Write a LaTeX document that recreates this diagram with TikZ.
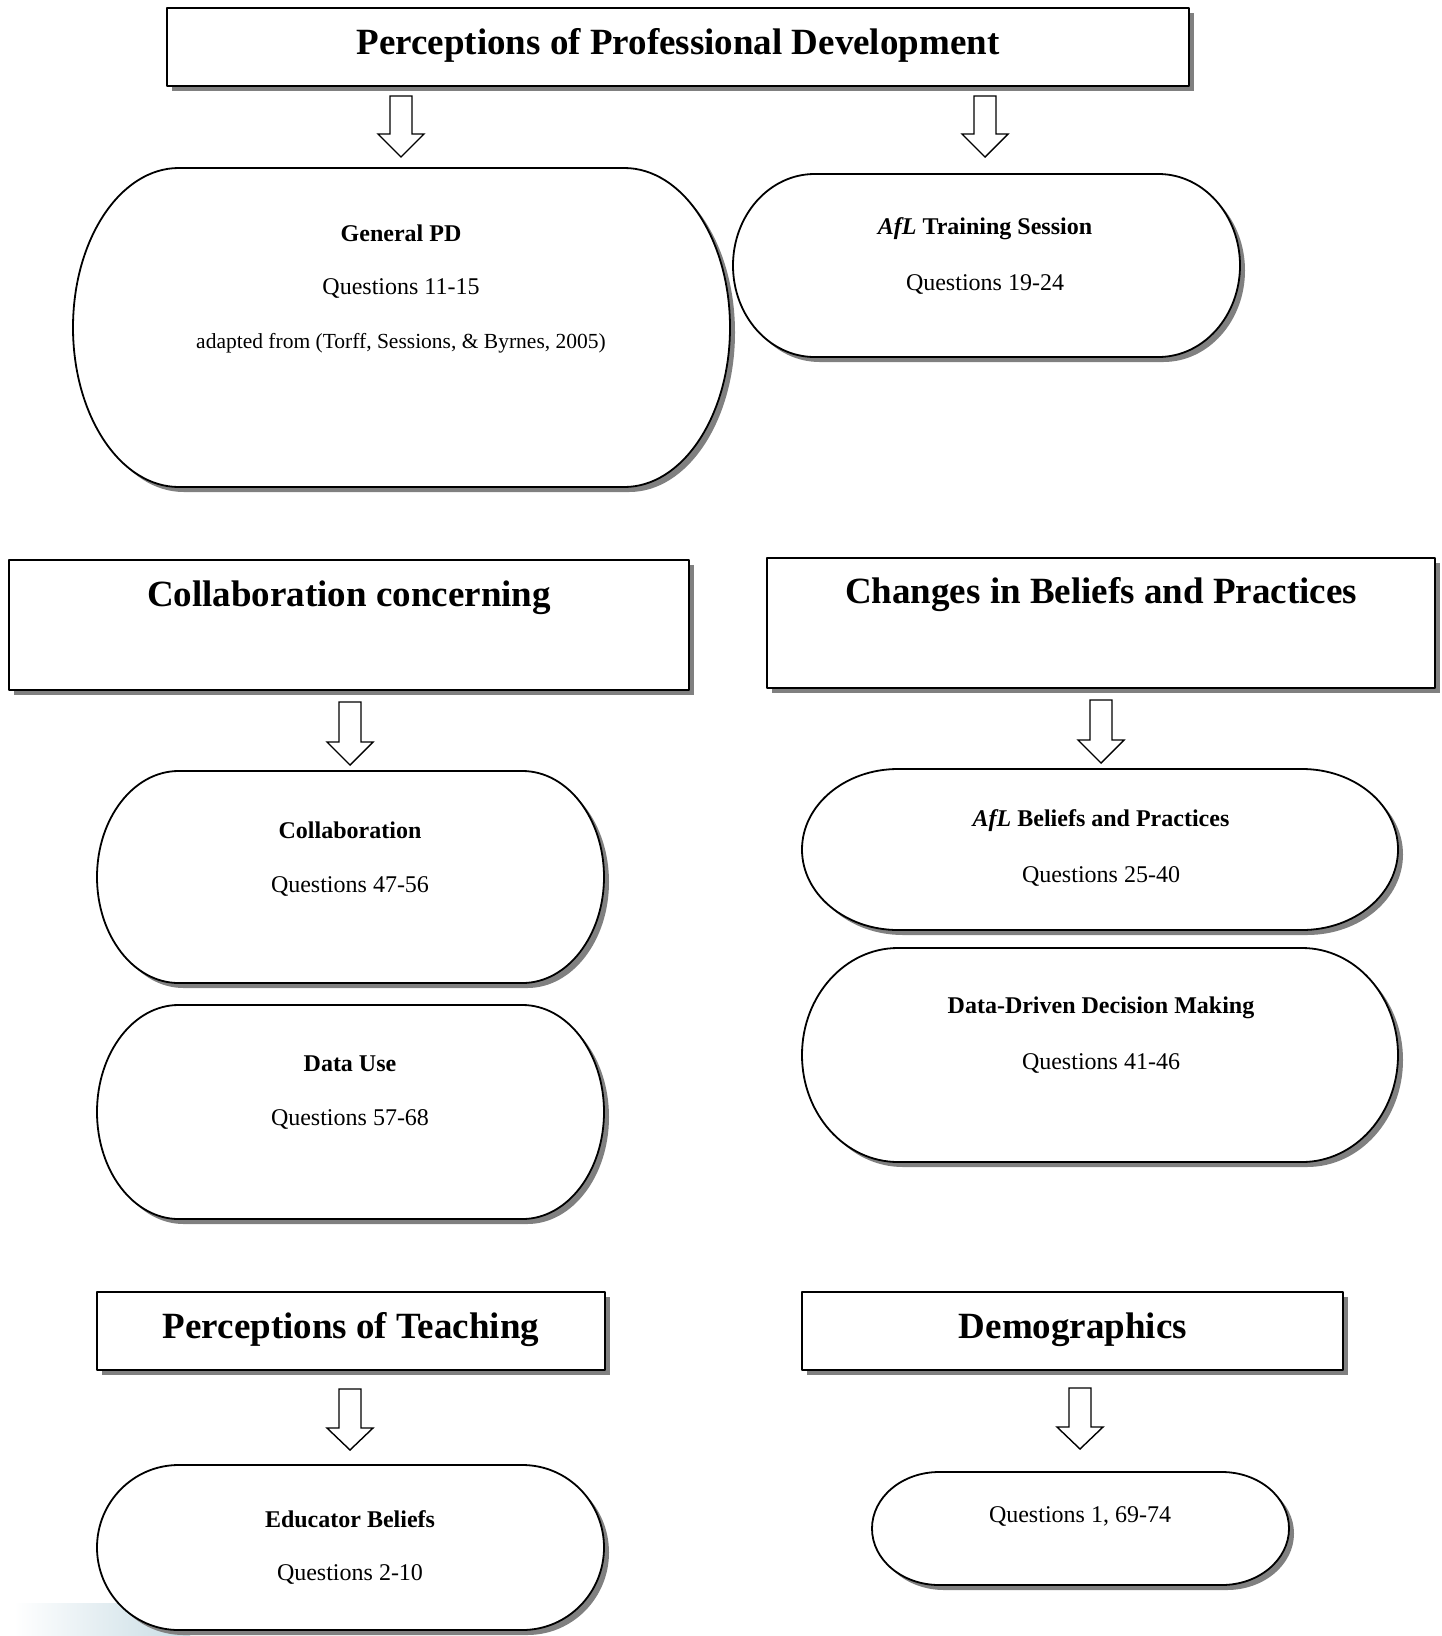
\documentclass[tikz,border=0pt]{standalone}
\usepackage{fontspec}
\setmainfont{Liberation Serif}
\definecolor{shadowgray}{RGB}{128,128,128}
\definecolor{gradblue}{RGB}{200,220,228}
\newcommand\rectbox[5]{%
  \pgfmathsetmacro\tbW{#4-#2}\pgfmathsetmacro\tbH{#5-#3}%
  \pgfmathsetmacro\tbX{(#2+#4)/2}\pgfmathsetmacro\tbY{-(#3+#5)/2}%
  \fill[shd] (#2+5,-#3-5) rectangle (#4+5,-#5-5);
  \node[outl, inner sep=0, minimum width=\tbW pt, minimum height=\tbH pt] (#1) at (\tbX,\tbY) {};
}
\newcommand\termbox[5]{%
  \pgfmathsetmacro\tbW{#4-#2}\pgfmathsetmacro\tbH{#5-#3}%
  \pgfmathsetmacro\tbRX{0.161*\tbW}\pgfmathsetmacro\tbRY{\tbH/2}%
  \pgfmathsetmacro\tbX{(#2+#4)/2}\pgfmathsetmacro\tbY{-(#3+#5)/2}%
  \node[inner sep=0, minimum width=\tbW pt, minimum height=\tbH pt] (#1) at (\tbX,\tbY) {};
  \fill[shd, shift={(5,-5)}] (#2+\tbRX,-#3) -- (#4-\tbRX,-#3)
    arc[start angle=90, end angle=-90, x radius=\tbRX pt, y radius=\tbRY pt]
    -- (#2+\tbRX,-#5)
    arc[start angle=270, end angle=90, x radius=\tbRX pt, y radius=\tbRY pt] -- cycle;
  \draw[outl] (#2+\tbRX,-#3) -- (#4-\tbRX,-#3)
    arc[start angle=90, end angle=-90, x radius=\tbRX pt, y radius=\tbRY pt]
    -- (#2+\tbRX,-#5)
    arc[start angle=270, end angle=90, x radius=\tbRX pt, y radius=\tbRY pt] -- cycle;
}
\newcommand\blockarrow[5]{% name, cx, ytop, yhead, ytip
  \pgfmathsetmacro\baH{#5-#3}\pgfmathsetmacro\baY{-(#3+#5)/2}%
  \node[inner sep=0, minimum width=46pt, minimum height=\baH pt] (#1) at (#2,\baY) {};
  \draw[arr] (#2-11,-#3) -- (#2+11,-#3) -- (#2+11,-#4) -- (#2+23,-#4) -- (#2,-#5)
    -- (#2-23,-#4) -- (#2-11,-#4) -- cycle;
}
\begin{document}
\begin{tikzpicture}[x=1pt, y=1pt,
  outl/.style={draw=black, line width=1.8pt, fill=white, line join=round},
  shd/.style={fill=shadowgray, draw=none},
  arr/.style={draw=black, line width=1.4pt, fill=white, line join=miter},
  ttl/.style={font=\fontsize{37}{40}\selectfont\bfseries, inner sep=0},
  lbl/.style={font=\fontsize{24}{27}\selectfont\bfseries, inner sep=0},
  qst/.style={font=\fontsize{24}{27}\selectfont, inner sep=0},
  smalltxt/.style={font=\fontsize{21.5}{24}\selectfont, inner sep=0}]
\useasboundingbox (0,0) rectangle (1442,-1636);
\fill[white] (0,0) rectangle (1442,-1636);
\shade[left color=white, right color=gradblue] (14,-1603) rectangle (190,-1636);

% top section
\rectbox{ppd}{167}{8}{1189}{86}
\node[ttl] (ppdt) at (678,-45) {Perceptions of Professional Development};
\blockarrow{a1}{401}{96}{134}{157}
\blockarrow{a2}{985}{96}{134}{157}
\termbox{gpd}{73}{168}{730}{487}
\node[lbl] (gpdt) at (401,-233) {General PD};
\node[qst] (gpdq) at (401,-288) {Questions 11-15};
\node[smalltxt] (gpda) at (401,-343) {adapted from (Torff, Sessions, \& Byrnes, 2005)};
\termbox{afl}{733}{174}{1240}{357}
\node[lbl] (aflt) at (985,-229) {\textit{AfL} Training Session};
\node[qst] (aflq) at (985,-284) {Questions 19-24};

% middle section
\rectbox{colc}{9}{560}{689}{690}
\node[ttl] (colct) at (349,-598) {Collaboration concerning};
\rectbox{chg}{767}{558}{1435}{688}
\node[ttl] (chgt) at (1101,-595) {Changes in Beliefs and Practices};
\blockarrow{a3}{350}{702}{742}{765}
\blockarrow{a4}{1101}{700}{740}{763}
\termbox{col}{97}{771}{604}{983}
\node[lbl] (colt) at (350,-830) {Collaboration};
\node[qst] (colq) at (350,-886) {Questions 47-56};
\termbox{du}{97}{1005}{604}{1219}
\node[lbl] (dut) at (350,-1064) {Data Use};
\node[qst] (duq) at (350,-1119) {Questions 57-68};
\termbox{abp}{802}{769}{1398}{930}
\node[lbl] (abpt) at (1101,-821) {\textit{AfL} Beliefs and Practices};
\node[qst] (abpq) at (1101,-876) {Questions 25-40};
\termbox{dd}{802}{948}{1398}{1162}
\node[lbl] (ddt) at (1101,-1008) {Data-Driven Decision Making};
\node[qst] (ddq) at (1101,-1063) {Questions 41-46};

% bottom section
\rectbox{pt}{97}{1292}{605}{1370}
\node[ttl] (ptt) at (351,-1330) {Perceptions of Teaching};
\rectbox{dem}{802}{1292}{1343}{1370}
\node[ttl] (demt) at (1073,-1330) {Demographics};
\blockarrow{a5}{350}{1389}{1428}{1450}
\blockarrow{a6}{1080}{1388}{1427}{1449}
\termbox{eb}{97}{1465}{604}{1630}
\node[lbl] (ebt) at (350,-1519) {Educator Beliefs};
\node[qst] (ebq) at (350,-1574) {Questions 2-10};
\termbox{dq}{872}{1472}{1289}{1585}
\node[qst] (dqt) at (1080,-1516) {Questions 1, 69-74};
\end{tikzpicture}
\end{document}
